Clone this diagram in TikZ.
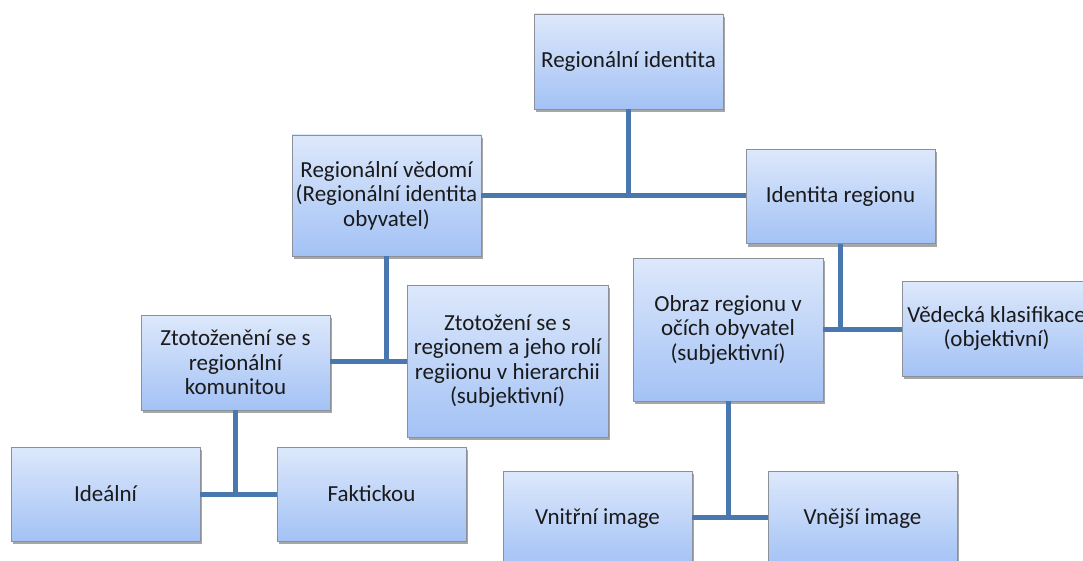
\documentclass[tikz,border=0pt]{standalone}
\usepackage{fontspec}
\setmainfont{Carlito}
\usetikzlibrary{shadows}
\definecolor{boxtop}{HTML}{DDE8FB}
\definecolor{boxbot}{HTML}{A3C2F5}
\definecolor{boxline}{HTML}{8C9098}
\definecolor{conn}{HTML}{4A78AE}
\definecolor{txt}{HTML}{1A1A1A}
\tikzset{
  box/.style={rectangle, draw=boxline, line width=0.9pt, top color=boxtop, bottom color=boxbot,
    minimum width=189pt, minimum height=95pt, align=center, inner sep=2pt, text=txt,
    font=\fontsize{23}{24.5}\selectfont,
    drop shadow={shadow xshift=2pt, shadow yshift=-3pt, fill=black, opacity=0.35}},
  link/.style={draw=conn, line width=5pt}
}
\begin{document}
\begin{tikzpicture}[x=1pt,y=-1pt]
\useasboundingbox (0,0) rectangle (1083,561);
\node[box] (A) at (628.5,61.5) {Regionální identita};
\node[box, minimum height=121pt] (B) at (386.5,195.5) {Regionální vědomí\\(Regionální identita\\obyvatel)};
\node[box, minimum height=94pt] (C) at (840.5,196.5) {Identita regionu};
\node[box] (D) at (235.5,362.5) {Ztotoženění se s\\regionální\\komunitou};
\node[box, minimum width=201pt, minimum height=152pt] (E) at (507.5,361) {Ztotožení se s\\regionem a jeho rolí\\regiionu v hierarchii\\(subjektivní)};
\node[box, minimum width=190pt, minimum height=143pt] (F) at (728,329.5) {Obraz regionu v\\očích obyvatel\\(subjektivní)};
\node[box] (G) at (996.5,328.5) {Vědecká klasifikace\\(objektivní)};
\node[box, minimum height=94pt] (H) at (105.5,494) {Ideální};
\node[box, minimum height=94pt] (I) at (371.5,494) {Faktickou};
\node[box] (J) at (597.5,518.5) {Vnitřní image};
\node[box] (K) at (862.5,518.5) {Vnější image};
\coordinate (jA) at (628.5,196);
\coordinate (jB) at (386.5,361);
\coordinate (jC) at (840.5,329);
\coordinate (jD) at (235.5,494);
\coordinate (jF) at (728,517);
\draw[link] (A.south) -- (jA);
\draw[link] (B.east |- jA) -- (C.west |- jA);
\draw[link] (B.south) -- (jB);
\draw[link] (D.east |- jB) -- (E.west |- jB);
\draw[link] (C.south) -- (jC);
\draw[link] (F.east |- jC) -- (G.west |- jC);
\draw[link] (D.south) -- (jD);
\draw[link] (H.east |- jD) -- (I.west |- jD);
\draw[link] (F.south) -- (jF);
\draw[link] (J.east |- jF) -- (K.west |- jF);
\end{tikzpicture}
\end{document}
